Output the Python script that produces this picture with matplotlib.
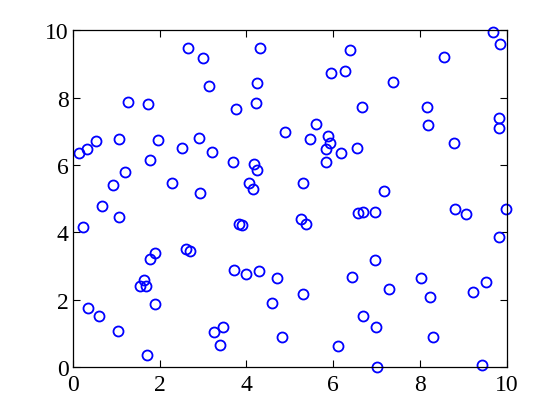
import matplotlib
matplotlib.use("Agg")
import matplotlib.pyplot as plt

x = [0.14, 0.33, 0.53, 1.07, 1.28, 1.74, 1.97, 1.78, 1.21, 0.93,
     0.68, 2.66, 3.00, 3.13, 2.52, 2.91, 3.20, 2.28, 2.92, 3.77,
     4.23, 4.24, 4.32, 3.70, 4.18, 4.24, 4.06, 4.16,
     4.90, 5.47, 5.61, 5.89, 5.93, 5.84, 6.17, 5.84, 6.55, 5.30,
     5.96, 6.28, 6.39, 6.67, 7.38, 7.17, 8.16, 8.19, 8.55, 8.79,
     9.68, 9.84, 9.81, 9.81,
     6.58, 6.68, 6.96, 8.81, 9.07, 9.98, 9.82, 5.26, 5.38, 4.71,
     6.96, 6.43, 7.29, 8.02, 8.24, 9.21, 9.53, 5.31, 4.60, 6.69,
     6.99, 4.83, 6.12, 8.30, 7.01, 9.44,
     0.23, 1.06, 2.60, 2.69, 1.78, 1.90, 1.63, 1.55, 1.69, 1.90,
     0.34, 0.61, 1.05, 1.72, 3.26, 3.45, 3.40, 3.82, 3.90, 3.71,
     4.00, 4.28]
y = [6.37, 6.47, 6.70, 6.77, 7.86, 7.80, 6.73, 6.14, 5.78, 5.42,
     4.79, 9.46, 9.16, 8.33, 6.50, 6.79, 6.40, 5.48, 5.18, 7.66,
     7.84, 8.43, 9.46, 6.08, 6.03, 5.84, 5.46, 5.28,
     6.97, 6.77, 7.23, 6.87, 6.64, 6.47, 6.37, 6.08, 6.49, 5.46,
     8.73, 8.78, 9.40, 7.71, 8.46, 5.23, 7.71, 7.20, 9.19, 6.64,
     9.93, 9.58, 7.38, 7.11,
     4.58, 4.60, 4.60, 4.71, 4.56, 4.70, 3.86, 4.40, 4.25, 2.64,
     3.18, 2.67, 2.34, 2.64, 2.08, 2.24, 2.52, 2.17, 1.90, 1.52,
     1.20, 0.90, 0.63, 0.90, 0.01, 0.07,
     4.15, 4.47, 3.51, 3.44, 3.20, 3.39, 2.59, 2.42, 2.42, 1.88,
     1.75, 1.52, 1.07, 0.37, 1.05, 1.20, 0.66, 4.26, 4.21, 2.88,
     2.78, 2.85]

ticks = [0, 2, 4, 6, 8, 10]

fig = plt.figure(figsize=(5.6, 4.14), dpi=100)
ax = fig.add_axes([0.13, 0.11, 0.775, 0.815])
ax.plot(x, y, linestyle='none', marker='o', markersize=7.2,
        markerfacecolor='none', markeredgecolor=(0, 0, 1), markeredgewidth=1.3,
        clip_on=False)
ax.set_xlim(0, 10)
ax.set_ylim(0, 10)
ax.set_xticks(ticks)
ax.set_yticks(ticks)
ax.set_xticklabels([str(t) for t in ticks])
ax.set_yticklabels([str(t) for t in ticks])
ax.tick_params(direction='in', top=True, right=True, length=5, width=0.8,
               labelsize=17)
ax.tick_params(axis='x', pad=5)
ax.tick_params(axis='y', pad=3)
for lab in ax.get_xticklabels() + ax.get_yticklabels():
    lab.set_family('Liberation Serif')
for s in ax.spines.values():
    s.set_linewidth(0.9)
fig.savefig('out.png', dpi=100)
